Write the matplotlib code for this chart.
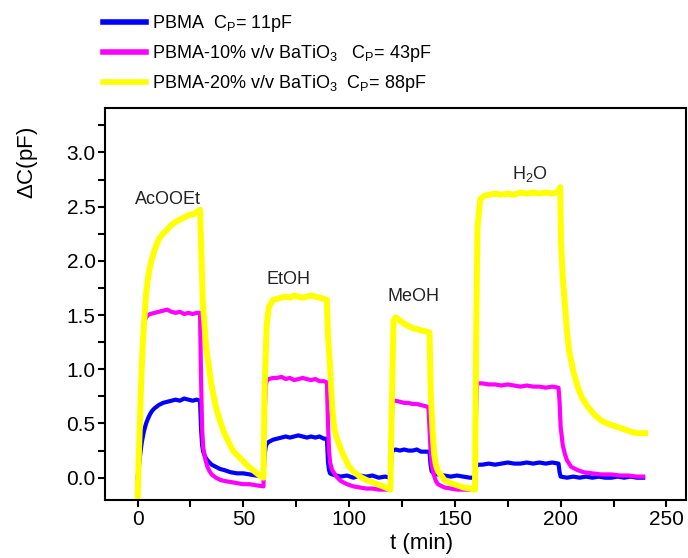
import matplotlib
matplotlib.use("Agg")
import matplotlib.pyplot as plt
from matplotlib.ticker import MultipleLocator

plt.rcParams['font.family'] = ['Liberation Sans', 'DejaVu Sans']
plt.rcParams['mathtext.fontset'] = 'custom'
plt.rcParams['mathtext.rm'] = 'Liberation Sans'
plt.rcParams['mathtext.it'] = 'Liberation Sans:italic'

# PBMA (blue)
t_blue = [0, 0.5, 1, 1.5, 2, 3, 4, 5, 6, 7, 8, 10, 12, 14, 16, 18, 20, 22, 24, 26, 28, 29.5,
          30, 30.5, 31, 32, 33, 34, 35, 37, 39, 41, 44, 47, 50, 53, 56, 59.5,
          60, 60.5, 61, 62, 64, 66, 68, 70, 72, 74, 76, 78, 80, 82, 84, 86, 88, 89.5,
          90, 90.5, 91, 92, 94, 96, 99, 102, 105, 108, 111, 114, 117, 119.5,
          120, 120.5, 122, 124, 126, 128, 130, 132, 134, 136, 138,
          138.5, 139, 140, 142, 145, 148, 151, 154, 157, 159.5,
          160, 160.5, 163, 166, 169, 172, 175, 178, 181, 184, 187, 190, 193, 196, 199,
          199.5, 200, 203, 206, 209, 212, 215, 218, 221, 224, 227, 230, 233, 236, 239]
y_blue = [0.0, 0.08, 0.18, 0.26, 0.33, 0.43, 0.50, 0.55, 0.59, 0.62, 0.64, 0.67, 0.69, 0.70, 0.71, 0.72, 0.71, 0.73, 0.72, 0.71, 0.72, 0.71,
          0.45, 0.30, 0.24, 0.19, 0.16, 0.14, 0.12, 0.10, 0.08, 0.07, 0.05, 0.04, 0.04, 0.03, 0.02, 0.01,
          0.20, 0.28, 0.31, 0.33, 0.35, 0.36, 0.37, 0.38, 0.37, 0.38, 0.39, 0.38, 0.37, 0.38, 0.37, 0.38, 0.36, 0.36,
          0.15, 0.07, 0.04, 0.03, 0.02, 0.01, 0.02, 0.00, 0.02, 0.01, 0.02, 0.00, 0.01, 0.00,
          0.20, 0.25, 0.26, 0.25, 0.26, 0.25, 0.25, 0.26, 0.24, 0.24, 0.24,
          0.12, 0.06, 0.04, 0.03, 0.02, 0.01, 0.02, 0.01, 0.00, 0.00,
          0.10, 0.12, 0.12, 0.13, 0.12, 0.13, 0.14, 0.13, 0.13, 0.14, 0.13, 0.14, 0.13, 0.14, 0.13,
          0.05, 0.01, 0.00, 0.01, 0.00, 0.01, 0.00, 0.01, 0.00, 0.00, 0.01, 0.00, 0.01, 0.00, 0.00]

# PBMA-10% BaTiO3 (magenta)
t_mag = [0, 0.5, 1, 1.5, 2, 2.5, 3, 4, 5, 6, 8, 10, 12, 14, 16, 18, 20, 22, 24, 26, 28, 29.5,
         30, 30.5, 31, 32, 33, 34, 35, 37, 39, 41, 44, 47, 50, 53, 56, 59.5,
         60, 60.5, 61, 62, 64, 66, 68, 70, 72, 74, 76, 78, 80, 82, 84, 86, 88, 89.5,
         90, 90.5, 91, 92, 94, 96, 99, 102, 105, 108, 111, 114, 117, 119.5,
         120, 120.5, 122, 124, 126, 128, 130, 132, 134, 136, 137.5,
         138, 138.5, 139, 140, 141, 142, 145, 148, 151, 154, 157, 159.5,
         160, 160.5, 163, 166, 169, 172, 175, 178, 181, 184, 187, 190, 193, 196, 199,
         199.5, 200, 201, 202, 203, 205, 208, 211, 215, 219, 224, 228, 232, 236, 239]
y_mag = [-0.15, 0.10, 0.40, 0.75, 1.05, 1.30, 1.42, 1.48, 1.50, 1.51, 1.52, 1.53, 1.54, 1.55, 1.53, 1.52, 1.53, 1.51, 1.52, 1.51, 1.52, 1.52,
         0.90, 0.45, 0.28, 0.17, 0.10, 0.06, 0.03, 0.00, -0.02, -0.03, -0.04, -0.05, -0.06, -0.06, -0.07, -0.08,
         0.50, 0.84, 0.89, 0.91, 0.92, 0.92, 0.93, 0.91, 0.92, 0.90, 0.91, 0.92, 0.91, 0.90, 0.91, 0.89, 0.89, 0.88,
         0.50, 0.25, 0.14, 0.07, 0.01, -0.03, -0.06, -0.08, -0.09, -0.10, -0.10, -0.11, -0.11, -0.11,
         0.40, 0.71, 0.71, 0.70, 0.69, 0.69, 0.68, 0.68, 0.67, 0.66, 0.65,
         0.45, 0.25, 0.12, 0.03, -0.03, -0.06, -0.09, -0.10, -0.11, -0.11, -0.11, -0.11,
         0.60, 0.87, 0.87, 0.86, 0.86, 0.85, 0.86, 0.85, 0.84, 0.85, 0.84, 0.84, 0.83, 0.84, 0.83,
         0.70, 0.47, 0.30, 0.22, 0.16, 0.10, 0.07, 0.05, 0.04, 0.03, 0.03, 0.02, 0.02, 0.01, 0.01]

# PBMA-20% BaTiO3 (yellow)
t_yel = [0, 0.5, 1, 1.5, 2, 2.7, 3.5, 4, 5, 5.5, 6.5, 8, 10, 12, 14, 16, 18, 20, 22, 24, 26, 28, 29.5,
         30, 30.8, 32.4, 34.8, 37, 39, 41, 43, 45, 47.5, 50, 52, 54.5, 57, 59.5,
         60, 61, 62, 64, 66, 68, 70, 72, 74, 76, 78, 80, 82, 84, 86, 88, 89.5,
         90, 90.8, 92, 93, 94, 95.6, 97, 100, 103, 106, 108, 112, 116, 119.5,
         120, 121, 122, 124, 126, 128, 130, 132, 134, 136, 138,
         138.6, 139.4, 140.2, 141, 142, 145, 148, 151, 154, 157, 159.5,
         160, 160.7, 162, 164, 166, 169, 172, 175, 178, 181, 184, 187, 190, 193, 196, 199, 199.8,
         200.2, 201, 202, 203, 204, 206, 208, 210, 213, 216, 219, 222, 225, 228, 231, 234, 237, 240]
y_yel = [-0.20, 0.16, 0.45, 0.78, 1.05, 1.33, 1.55, 1.70, 1.85, 1.91, 2.00, 2.10, 2.20, 2.25, 2.29, 2.33, 2.36, 2.38, 2.40, 2.42, 2.43, 2.45, 2.47,
         2.16, 1.63, 1.20, 0.87, 0.65, 0.52, 0.41, 0.33, 0.25, 0.20, 0.15, 0.11, 0.07, 0.03, 0.00,
         0.80, 1.40, 1.57, 1.64, 1.65, 1.66, 1.67, 1.66, 1.68, 1.67, 1.66, 1.67, 1.68, 1.67, 1.66, 1.65, 1.64,
         1.30, 1.08, 0.65, 0.45, 0.37, 0.29, 0.22, 0.10, 0.04, 0.00, -0.02, -0.05, -0.08, -0.11,
         0.50, 1.45, 1.48, 1.45, 1.42, 1.40, 1.38, 1.37, 1.36, 1.35, 1.34,
         0.78, 0.45, 0.22, 0.12, 0.06, -0.02, -0.05, -0.07, -0.09, -0.10, -0.11,
         1.20, 2.31, 2.57, 2.60, 2.61, 2.62, 2.61, 2.62, 2.61, 2.63, 2.62, 2.63, 2.62, 2.63, 2.62, 2.64, 2.68,
         2.16, 1.85, 1.60, 1.35, 1.17, 0.98, 0.84, 0.74, 0.65, 0.58, 0.53, 0.50, 0.48, 0.46, 0.44, 0.42, 0.41, 0.41]

labels = [r"PBMA  C$_\mathrm{P}$= 11pF",
          r"PBMA-10% v/v BaTiO$_3$   C$_\mathrm{P}$= 43pF",
          r"PBMA-20% v/v BaTiO$_3$  C$_\mathrm{P}$= 88pF"]
solvents = ["AcOOEt", "EtOH", "MeOH", r"H$_2$O"]
solvent_t = [14.5, 71.5, 130.5, 185.5]
solvent_y = [2.57, 1.83, 1.67, 2.80]

fig = plt.figure(figsize=(6.88, 5.58), dpi=100)
ax = fig.add_axes([0.1533, 0.1039, 0.8445, 0.7026])

ax.plot(t_blue, y_blue, color='#0000ff', lw=3.0, label=labels[0])
ax.plot(t_mag, y_mag, color='#ff00ff', lw=3.0, label=labels[1])
ax.plot(t_yel, y_yel, color='#ffff00', lw=4.3, label=labels[2])

for name, tx, ty in zip(solvents, solvent_t, solvent_y):
    ax.text(tx, ty, name, ha='center', va='center', fontsize=13, color='#222222')

ax.set_xlim(-15.2, 259.5)
ax.set_ylim(-0.206, 3.41)
ax.xaxis.set_major_locator(MultipleLocator(50))
ax.xaxis.set_minor_locator(MultipleLocator(25))
ax.yaxis.set_major_locator(MultipleLocator(0.5))
ax.yaxis.set_minor_locator(MultipleLocator(0.25))
ax.yaxis.set_major_formatter(plt.FormatStrFormatter('%.1f'))
ax.tick_params(which='major', direction='out', length=5, width=1.5, labelsize=15, pad=2)
ax.tick_params(which='minor', direction='out', length=5, width=1.5)
for s in ax.spines.values():
    s.set_linewidth(1.5)

fig.text(28 / 688, 1 - 163 / 558, r"$\Delta$C(pF)", rotation=90, ha='center', va='center', fontsize=16)
fig.text(422 / 688, 1 - 543 / 558, "t (min)", ha='center', va='center', fontsize=16)

fig.legend(loc='upper left', bbox_to_anchor=(103 / 688, 1 - 13 / 558), frameon=False,
           fontsize=13, handlelength=2.4, handletextpad=0.3, labelspacing=0.5,
           borderpad=0, borderaxespad=0)
for line in fig.legends[0].get_lines():
    line.set_linewidth(4.0)

fig.savefig("out.png", dpi=100)
